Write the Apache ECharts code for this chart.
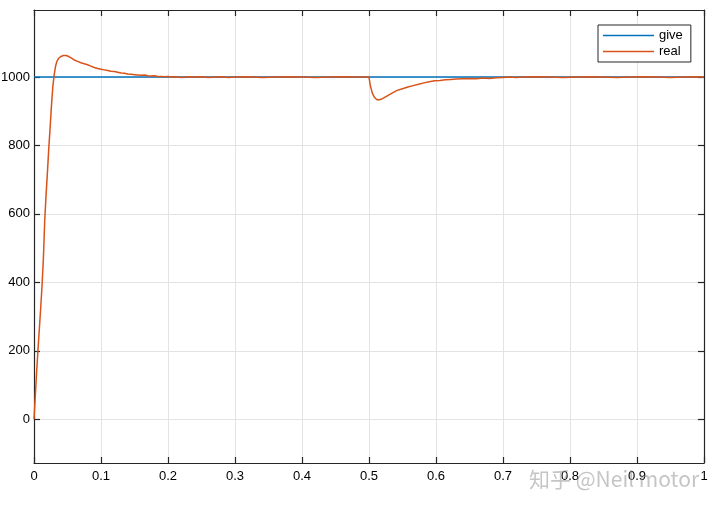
<!DOCTYPE html>
<html>
<head>
<meta charset="utf-8">
<script src="https://cdn.jsdelivr.net/npm/echarts@6/dist/echarts.min.js"></script>
<style>html,body{margin:0;padding:0;background:#fff}#c{width:720px;height:509px}</style>
</head>
<body>
<div id="c"></div>
<script>
const xTicks = [0, 0.1, 0.2, 0.3, 0.4, 0.5, 0.6, 0.7, 0.8, 0.9, 1];
const yTicks = [0, 200, 400, 600, 800, 1000];
const giveData = [[0, 1000], [1, 1000]];
const realData = [
  [0,0],[0.002,70],[0.004,140],[0.006,205],[0.008,265],[0.010,325],[0.012,390],[0.014,470],
  [0.016,580],[0.018,655],[0.020,720],[0.022,790],[0.024,850],[0.026,915],[0.028,970],
  [0.030,1005],[0.032,1030],[0.034,1045],[0.037,1055],[0.040,1060],[0.044,1063],[0.048,1063],
  [0.052,1060],[0.056,1055],[0.060,1050],[0.065,1046],[0.070,1042],[0.075,1039],[0.080,1036],
  [0.085,1032],[0.090,1028],[0.095,1025],[0.100,1023],[0.105,1021],[0.110,1019],[0.115,1017],
  [0.120,1016],[0.125,1014],[0.130,1012],[0.135,1011],[0.140,1009],[0.145,1008],[0.150,1007],
  [0.155,1006],[0.160,1005],[0.165,1006],[0.170,1004],[0.175,1003],[0.180,1004],[0.185,1002],
  [0.190,1002],[0.195,1001],[0.200,1002],[0.205,1000],[0.210,1001],[0.220,999],[0.230,1001],
  [0.240,1000],[0.250,1001],[0.260,999],[0.270,1000],[0.280,1001],[0.290,999],[0.300,1000],
  [0.320,1001],[0.340,999],[0.360,1000],[0.380,1001],[0.400,1000],[0.420,999],[0.440,1000],
  [0.460,1001],[0.480,1000],[0.500,1000],[0.502,975],[0.505,953],[0.508,941],[0.511,935],
  [0.514,933],[0.518,935],[0.522,939],[0.528,946],[0.535,954],[0.542,961],[0.550,966],
  [0.558,971],[0.566,975],[0.574,979],[0.582,983],[0.590,986],[0.598,989],[0.606,990],
  [0.614,992],[0.622,993],[0.630,994],[0.640,995],[0.650,996],[0.660,995],[0.670,997],
  [0.680,996],[0.690,998],[0.700,999],[0.710,1000],[0.720,999],[0.730,1000],[0.750,1001],
  [0.770,1000],[0.790,999],[0.810,1000],[0.830,1001],[0.850,1000],[0.870,999],[0.890,1000],
  [0.910,1001],[0.930,1000],[0.950,999],[0.970,1000],[0.990,1001],[1.000,1000]
];

const axisColor = '#262626';
const font = 'Liberation Sans, Arial, sans-serif';
const chart = echarts.init(document.getElementById('c'), null, {renderer: 'canvas'});

const xBase = {
  type: 'value', min: 0, max: 1, interval: 0.1,
  axisLine: {show: true, onZero: false, lineStyle: {color: axisColor, width: 1.2}},
  axisTick: {show: true, inside: true, length: 6, lineStyle: {color: axisColor, width: 1.2}}
};
const yBase = {
  type: 'value', min: -128, max: 1196,
  axisLine: {show: true, onZero: false, lineStyle: {color: axisColor, width: 1.2}},
  axisTick: {show: true, inside: true, length: 6, customValues: yTicks, lineStyle: {color: axisColor, width: 1.2}}
};

chart.setOption({
  animation: false,
  backgroundColor: '#ffffff',
  grid: {left: 34, right: 16, top: 10, bottom: 46, containLabel: false, outerBoundsMode: 'none'},
  legend: {
    orient: 'vertical', left: 598, top: 25,
    padding: [4, 8, 4, 5], itemGap: 3, itemWidth: 51, itemHeight: 15,
    icon: 'path://M0,0 L51,0 L51,1.5 L0,1.5 Z',
    backgroundColor: '#ffffff', borderColor: axisColor, borderWidth: 1, borderRadius: 0,
    textStyle: {fontFamily: font, fontSize: 13, color: '#000'},
    data: ['give', 'real']
  },
  xAxis: [
    Object.assign({}, xBase, {
      position: 'bottom',
      axisLabel: {show: true, margin: 7, fontFamily: font, fontSize: 13, color: '#000',
        formatter: v => String(v)},
      splitLine: {show: true, lineStyle: {color: '#e3e3e3', width: 1}}
    }),
    Object.assign({}, xBase, {
      position: 'top',
      axisLabel: {show: false},
      splitLine: {show: false}
    })
  ],
  yAxis: [
    Object.assign({}, yBase, {
      position: 'left',
      axisLabel: {show: true, margin: 4, customValues: yTicks, fontFamily: font, fontSize: 13, color: '#000',
        formatter: v => String(v)},
      splitLine: {show: true, lineStyle: {color: '#e3e3e3', width: 1}}
    }),
    Object.assign({}, yBase, {
      position: 'right',
      axisLabel: {show: false},
      splitLine: {show: false}
    })
  ],
  series: [
    {name: 'give', type: 'line', data: giveData, showSymbol: false, symbol: 'none',
      lineStyle: {color: '#0072BD', width: 1.5}, itemStyle: {color: '#0072BD'}, z: 2},
    {name: 'real', type: 'line', data: realData, showSymbol: false, symbol: 'none',
      lineStyle: {color: '#D95319', width: 1.5}, itemStyle: {color: '#D95319'}, z: 3}
  ],
  graphic: [{
    type: 'text', left: 529, top: 469, z: 100,
    style: {text: '知乎 @Neil motor', fontSize: 21, fontFamily: 'Noto Sans CJK SC, sans-serif',
      fill: 'rgba(150,150,150,0.55)'}
  }]
});
</script>
</body>
</html>
